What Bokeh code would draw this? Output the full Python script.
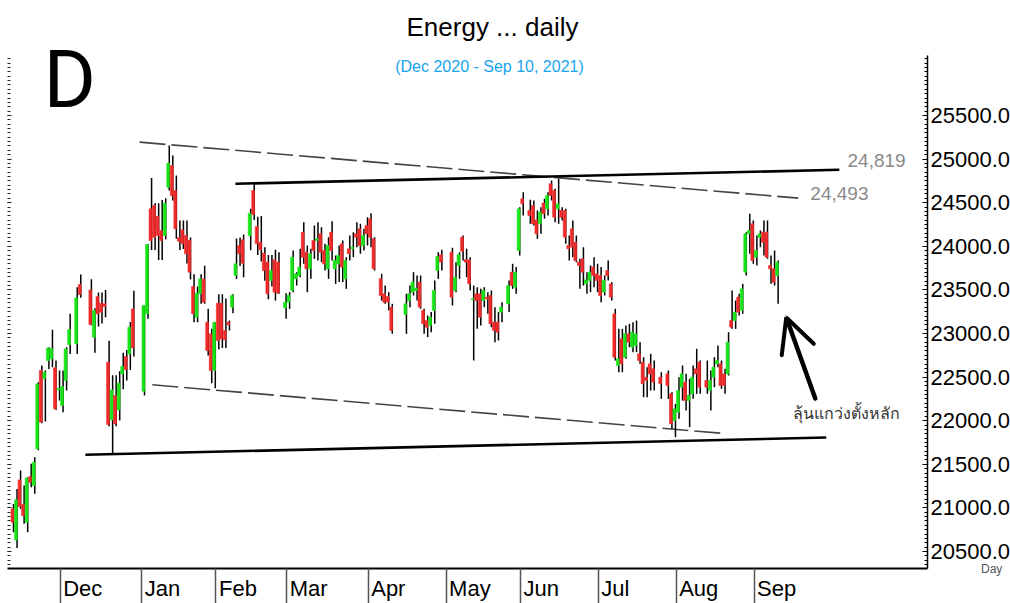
import numpy as np
from bokeh.plotting import figure
from bokeh.models import (ColumnDataSource, LinearAxis, Range1d, FixedTicker, Label, Title,
                          Arrow, OpenHead, CustomJSTickFormatter, PrintfTickFormatter)
from bokeh.embed import file_html
from bokeh.resources import INLINE

N = None
# daily OHLC, one slot per weekday (Nov 2020 .. Sep 10 2021); None = no trading
opens = [
    20989, 20633, 21321, 21038, 20836, 21359, 21257, 21677, 22575, 22480,
    22690, 22709, 22606, 22354, 22174, 22460, 22873, N, 22881, 23561,
    N, N, 23500, 22957, 23424, 23347, 23340, 22671, 22009, 22288,
    22124, 22537, 22736, 22766, 23282, N, N, 22338, 23225, 24429,
    24468, 24341, 24181, 24124, 24678, 24926, 24640, 24097, 24188, 24124,
    24066, 23539, 23187, 23455, 23626, 23130, 22996, 22575, 23347, 23347,
    23034, 23130, 23302, 23665, 24009, 24074, N, 24124, 24640, 24227,
    24047, 23921, 23818, 23607, 23845, 23818, N, 23294, 23359, 23493,
    23627, 23665, 24162, 23933, 23742, 24066, 24066, 24143, 23952, 23742,
    24162, 23742, 23799, 24028, 23627, 23971, 23971, 24143, 24200, 24009,
    24239, 24315, 24086, N, 23627, 23455, 23424, 23302, N, N,
    N, 23218, 23378, 23474, 23493, 23589, 23264, 23149, 23092, 23264,
    23722, 23902, N, N, 23933, 23493, 23780, 24105, 23845, 23845,
    23390, 23455, 23455, 23378, 23417, 23436, 23130, 23130, 23245, N,
    23340, 23703, 23531, 23952, 24544, N, 24411, 24468, 24300, 24258,
    24495, 24430, 24716, 24640, 24430, 24411, 24411, 24009, 24200, 24047,
    23818, 23856, 23569, 23608, 23761, 23684, 23665, 23474, 23722, 23569,
    23225, 22633, 22939, 22728, 22996, 22843, 22862, 22767, 22671, 22499,
    22652, 22595, N, 22499, N, 22537, 22308, 22002, 22098, 22384,
    22442, 22232, 22308, 22595, 22671, N, 22461, 22346, 22499, 22652,
    22652, 22537, 22537, 23149, 23149, 23417, 23264, 23703, 24143, 24257,
    23875, 24104, 24162, 24162, 23779, 23741, 23665,
]
highs = [
    21046, 21218, 21428, 21256, 21352, 21505, 21581, 22440, 22632, 22575,
    22843, 23042, 22690, 22575, 22575, 22843, 23225, N, 23531, 23676,
    N, N, 23622, 23290, 23470, 23470, 23500, 22916, 22520, 22520,
    22566, 22780, 22812, 23133, 23489, N, N, 23320, 24027, 24784,
    24494, 24494, 24532, 24551, 25156, 25041, 24813, 24295, 24295, 24295,
    24100, 23680, 23540, 23680, 23776, 23283, 23053, 23130, 23450, 23450,
    23400, 23150, 23450, 24089, 24100, 24135, N, 24430, 24716, 24340,
    24346, 23990, 23900, 23900, 23959, 23933, N, 23462, 23474, 23952,
    23703, 23971, 24277, 24009, 23971, 24239, 24277, 24219, 24028, 24105,
    24288, 23894, 24009, 24066, 23875, 24124, 24162, 24277, 24258, 24200,
    24334, 24380, 24105, N, 23684, 23550, 23474, 23340, N, N,
    N, 23455, 23550, 23703, 23665, 23665, 23283, 23206, 23245, 23608,
    23933, 23959, N, N, 23982, 23818, 23933, 24124, 23971, 23875,
    23550, 23531, 23512, 23531, 23474, 23493, 23302, 23245, 23359, N,
    23608, 23799, 23761, 24449, 24621, N, 24533, 24525, 24411, 24449,
    24544, 24621, 24755, 24659, 24774, 24449, 24430, 24124, 24296, 24124,
    23856, 23990, 23703, 23780, 23875, 23799, 23761, 23665, 23837, 23589,
    23283, 23053, 23053, 23092, 23111, 23130, 23149, 22900, 22728, 22614,
    22767, 22690, N, 22556, N, 22575, 22327, 22193, 22499, 22633,
    22537, 22480, 22633, 22824, 22690, N, 22690, 22576, 22728, 22862,
    22690, 22595, 23015, 23493, 23378, 23455, 23569, 24162, 24372, 24296,
    24124, 24181, 24296, 24296, 23894, 23952, 23837,
]
lows = [
    20721, 20541, 20989, 20817, 20721, 21237, 21161, 21660, 21970, 21990,
    22594, 22613, 22124, 22231, 22097, 22346, 22766, N, 22766, 23409,
    N, N, 23095, 22780, 23080, 23114, 23187, 21937, 21619, 21937,
    22001, 22360, 22460, 22582, 22736, N, N, 22290, 23168, 23956,
    23956, 23843, 23843, 24081, 24640, 24525, 24085, 23957, 23970, 23803,
    23620, 23130, 23130, 23340, 23340, 22748, 22430, 22372, 22820, 22835,
    22835, 23034, 23233, 23626, 23775, 23646, N, 23955, 24300, 23900,
    23826, 23604, 23392, 23540, 23378, 23455, N, 23168, 23283, 23474,
    23550, 23646, 23799, 23474, 23627, 23856, 23837, 23818, 23722, 23627,
    23837, 23569, 23589, 23589, 23512, 23837, 23875, 23990, 23914, 23952,
    24009, 23990, 23722, N, 23378, 23340, 23264, 22996, N, N,
    N, 22996, 23302, 23436, 23378, 23283, 22996, 22958, 23015, 23111,
    23627, 23722, N, N, 23321, 23474, 23627, 23837, 23646, 23493,
    22690, 23053, 23092, 23302, 23225, 23072, 22900, 22920, 23130, N,
    23245, 23512, 23455, 23894, 24353, N, 24258, 24239, 24086, 24143,
    24315, 24353, 24525, 24277, 24258, 24296, 24028, 23837, 23875, 23818,
    23512, 23550, 23455, 23474, 23531, 23474, 23359, 23436, 23608, 23378,
    22690, 22556, 22556, 22709, 22843, 22786, 22786, 22652, 22270, 22270,
    22346, 22346, N, 22251, N, 22251, 21907, 21811, 22021, 22231,
    22117, 21926, 22251, 22308, 22308, N, 22308, 22117, 22384, 22614,
    22365, 22308, 22518, 23053, 23053, 23206, 23225, 23665, 23913, 23799,
    23779, 23990, 23894, 23856, 23569, 23550, 23340,
]
closes = [
    20836, 21092, 21015, 20912, 21344, 21294, 21524, 22422, 21983, 22556,
    22835, 22824, 22136, 22369, 22392, 22823, 23045, N, 23409, 23447,
    N, N, 23103, 23263, 23225, 23244, 23309, 21956, 22353, 21963,
    22430, 22621, 22583, 23072, 22835, N, N, 23320, 24020, 24066,
    24104, 24124, 24066, 24494, 24953, 24582, 24200, 24058, 24028, 23913,
    23703, 23225, 23462, 23626, 23359, 22805, 22575, 23130, 22919, 22938,
    22927, 23099, 23435, 23799, 23913, 23806, N, 24380, 24364, 24028,
    23960, 23722, 23455, 23722, 23474, 23462, N, 23359, 23436, 23875,
    23684, 23761, 23875, 23742, 23914, 23952, 24086, 23933, 23799, 24009,
    23952, 23837, 23894, 23761, 23837, 23914, 23990, 24105, 24009, 24124,
    24143, 24105, 23742, N, 23436, 23359, 23359, 23034, N, N,
    N, 23340, 23455, 23589, 23520, 23302, 23111, 23072, 23187, 23493,
    23883, 23818, N, N, 23417, 23646, 23902, 23944, 23818, 23569,
    23400, 23378, 23187, 23493, 23397, 23111, 23034, 23015, 23302, N,
    23550, 23550, 23703, 24430, 24487, N, 24353, 24258, 24143, 24391,
    24372, 24583, 24583, 24334, 24487, 24334, 24105, 23971, 23990, 23837,
    23780, 23703, 23615, 23703, 23665, 23608, 23436, 23608, 23665, 23417,
    22728, 22709, 22652, 22996, 22900, 23015, 22996, 22690, 22423, 22461,
    22537, 22442, N, 22423, N, 22404, 21964, 22136, 22346, 22537,
    22232, 22289, 22499, 22537, 22385, N, 22384, 22461, 22614, 22690,
    22404, 22404, 22900, 23072, 23245, 23245, 23512, 24143, 24181, 23837,
    23952, 24143, 24047, 23875, 23741, 23588, 23818,
]

month_names = ["Dec", "Jan", "Feb", "Mar", "Apr", "May", "Jun", "Jul", "Aug", "Sep"]
month_first_bar = [14, 37, 58, 78, 101, 123, 144, 166, 188, 210]
price_ticks = [20500, 21000, 21500, 22000, 22500, 23000, 23500, 24000, 24500, 25000, 25500]
minor_price_ticks = list(range(20350, 26200, 50))

# trend lines (bar index, price)
resistance_x = [63.0, 233.6]
resistance_y = [24717, 24877]
support_x = [20.6, 229.9]
support_y = [21609, 21807]
upper_channel_x = [35.9, 222.0]
upper_channel_y = [25194, 24552]
lower_channel_x = [39.5, 200.0]
lower_channel_y = [22412, 21857]

GREEN = "#17e317"
RED = "#f02a2a"
X_START, X_END = -1.4, 258.5
Y_START, Y_END = 20305, 26291
AXIS_TOP = 26188
FRAME_W = 920
MONTH_FONT_PX = 22
SEP_LEN = 35

idx = [i for i, o in enumerate(opens) if o is not None]
o = np.array([opens[i] for i in idx], dtype=float)
h = np.array([highs[i] for i in idx], dtype=float)
l = np.array([lows[i] for i in idx], dtype=float)
c = np.array([closes[i] for i in idx], dtype=float)
xs = np.array(idx, dtype=float)
colors = [GREEN if cc >= oo else RED for oo, cc in zip(o, c)]

src = ColumnDataSource(dict(x=xs, xw=xs + 0.3, top=np.maximum(o, c), bottom=np.minimum(o, c),
                            high=h, low=l, color=colors))

p = figure(width=1010, height=603,
           x_range=Range1d(X_START, X_END), y_range=Range1d(Y_START, Y_END),
           x_axis_location=None, y_axis_location=None,
           toolbar_location=None, output_backend="svg",
           min_border_left=7, min_border_right=83, min_border_top=46, min_border_bottom=35)
p.outline_line_color = None
p.grid.grid_line_color = None

# main title
p.add_layout(Title(text="Energy ... daily", align="left", offset=399, standoff=10,
                   text_font="Liberation Sans", text_font_size="26px",
                   text_font_style="normal", text_color="black"), "above")

# axes
blank = CustomJSTickFormatter(code="return ''")
left = LinearAxis(ticker=FixedTicker(ticks=price_ticks, minor_ticks=minor_price_ticks),
                  formatter=blank, axis_line_color=None, bounds=(Y_START, AXIS_TOP - 40),
                  major_tick_in=4, major_tick_out=0, minor_tick_in=3, minor_tick_out=0,
                  major_tick_line_color="#222", minor_tick_line_color="#222",
                  major_label_text_font_size="0px", major_label_standoff=0)
p.add_layout(left, "left")

right = LinearAxis(ticker=FixedTicker(ticks=price_ticks, minor_ticks=minor_price_ticks),
                   formatter=PrintfTickFormatter(format="%.1f"), bounds=(Y_START, AXIS_TOP),
                   axis_line_color="black", axis_line_width=1.5,
                   major_tick_in=5, major_tick_out=0, minor_tick_in=3, minor_tick_out=0,
                   major_tick_line_color="black", minor_tick_line_color="black",
                   major_label_standoff=3, major_label_text_font="Liberation Sans",
                   major_label_text_font_size="22px", major_label_text_color="black",
                   axis_label="Day", axis_label_orientation="horizontal",
                   axis_label_align="start", axis_label_standoff=-32,
                   axis_label_text_font="Liberation Sans", axis_label_text_font_size="12px",
                   axis_label_text_font_style="normal", axis_label_text_color="#555")
p.add_layout(right, "right")

# month axis: separators as long minor ticks, names left-aligned after each separator
CHAR_W = {"D": .722, "e": .556, "c": .5, "J": .5, "a": .556, "n": .556, "F": .611, "b": .556,
          "M": .833, "r": .333, "A": .667, "p": .556, "y": .5, "u": .556, "l": .222,
          "g": .556, "S": .667}
px_per_bar = FRAME_W / (X_END - X_START)
separators = [m - 0.5 for m in month_first_bar]
label_pos = []
for s, name in zip(separators, month_names):
    w = sum(CHAR_W.get(ch, .556) for ch in name) * MONTH_FONT_PX
    label_pos.append(round(s + (3 + w / 2) / px_per_bar, 3))

bottom = LinearAxis(ticker=FixedTicker(ticks=label_pos, minor_ticks=separators),
                    major_label_overrides={pos: name for pos, name in zip(label_pos, month_names)},
                    axis_line_color="black", axis_line_width=2,
                    major_tick_in=0, major_tick_out=0, major_tick_line_color=None,
                    minor_tick_in=0, minor_tick_out=SEP_LEN, minor_tick_line_color="#555",
                    minor_tick_line_width=1.5,
                    major_label_standoff=7 - SEP_LEN, major_label_text_font="Liberation Sans",
                    major_label_text_font_size=f"{MONTH_FONT_PX}px", major_label_text_color="black")
p.add_layout(bottom, "below")

# trend lines
p.line(upper_channel_x, upper_channel_y, line_color="#444", line_width=1.6, line_dash="26 6")
p.line(lower_channel_x, lower_channel_y, line_color="#444", line_width=1.6, line_dash="26 6")
p.line(resistance_x, resistance_y, line_color="black", line_width=2.6)
p.line(support_x, support_y, line_color="black", line_width=2.6)

# candles
p.segment(x0="xw", y0="low", x1="xw", y1="high", source=src, line_color="black", line_width=1.5)
p.vbar(x="x", width=0.8, top="top", bottom="bottom", source=src,
       fill_color="color", line_color="color", line_width=0.6)

# in-plot texts
p.add_layout(Label(x=482, y=502, x_units="screen", y_units="screen", text="(Dec 2020 - Sep 10, 2021)",
                   text_align="center", text_baseline="alphabetic", text_font="Liberation Sans",
                   text_font_size="16px", text_color="#17a4ee"))
p.add_layout(Label(x=36, y=489, x_units="screen", y_units="screen", text="D",
                   text_align="left", text_baseline="alphabetic", text_font="Roboto",
                   text_font_size="80px", text_color="black"))

p.add_layout(Label(x=235.9, y=24984, text="24,819", text_align="left", text_baseline="middle",
                   text_font="Liberation Sans", text_font_size="19px", text_color="#8a8a8a"))
p.add_layout(Label(x=225.4, y=24605, text="24,493", text_align="left", text_baseline="middle",
                   text_font="Liberation Sans", text_font_size="19px", text_color="#8a8a8a"))
p.add_layout(Label(x=220.6, y=22083, text="ลุ้นแกว่งตั้งหลัก", text_align="left",
                   text_baseline="middle", text_font="Noto Sans", text_font_size="16px",
                   text_color="#333"))

p.add_layout(Arrow(end=OpenHead(size=34, line_width=4, line_color="black", line_cap="round"),
                   x_start=226.8, y_start=22255, x_end=218.6, y_end=23183,
                   line_width=4.5, line_color="black", line_cap="round"))

open("out.html", "w").write(file_html(p, INLINE, "Energy daily"))
